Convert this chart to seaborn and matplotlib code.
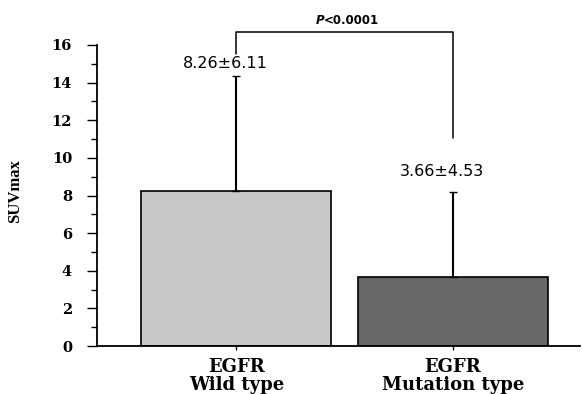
import matplotlib
matplotlib.use("Agg")
import matplotlib.pyplot as plt
import seaborn as sns
import pandas as pd
from matplotlib.ticker import MultipleLocator

# SUVmax by EGFR status (mean ± SD)
groups = ["EGFR\nWild type", "EGFR\nMutation type"]
suv_mean = [8.26, 3.66]
suv_sd = [6.11, 4.53]
value_labels = ["8.26±6.11", "3.66±4.53"]
p_symbol = "P"
p_value_text = "<0.0001"
y_ticks = [0, 2, 4, 6, 8, 10, 12, 14, 16]
bar_colors = ["#c8c8c8", "#686868"]

sns.set_style("white")
plt.rcParams["font.family"] = ["DejaVu Sans"]
plt.rcParams.update({
    "text.color": "black",
    "axes.labelcolor": "black",
    "xtick.color": "black",
    "ytick.color": "black",
})

fig = plt.figure(figsize=(5.82, 3.94), dpi=100)
ax = fig.add_axes([97 / 582, 1 - 346 / 394, (580 - 97) / 582, (346 - 45) / 394])

df = pd.DataFrame({"group": groups, "suv": suv_mean})
sns.barplot(data=df, x="group", y="suv", hue="group", palette=bar_colors,
            edgecolor="black", linewidth=1.2, width=0.877, legend=False,
            errorbar=None, ax=ax)

# upper-only SD whiskers
ax.errorbar(range(len(groups)), suv_mean, yerr=[[0] * len(groups), suv_sd],
            fmt="none", ecolor="black", elinewidth=1.5, capsize=3, capthick=1)

ax.set_xlim(-0.644, 1.587)
ax.set_ylim(0, 16)
ax.set_yticks(y_ticks)
ax.yaxis.set_minor_locator(MultipleLocator(1))

for side in ("top", "right"):
    ax.spines[side].set_visible(False)
for side in ("left", "bottom"):
    ax.spines[side].set_color("black")
    ax.spines[side].set_linewidth(1.3)

ax.tick_params(axis="y", which="major", length=7, width=1, colors="black",
               direction="out", pad=11, left=True)
ax.tick_params(axis="y", which="minor", length=4, width=1, colors="black",
               direction="out", left=True)
ax.tick_params(axis="x", which="major", length=3, width=1, colors="black",
               direction="out", pad=6, bottom=True)

for lab in ax.get_yticklabels():
    lab.set_fontfamily("DejaVu Serif")
    lab.set_fontweight("bold")
    lab.set_fontsize(10.5)
for lab in ax.get_xticklabels():
    lab.set_fontfamily("DejaVu Serif")
    lab.set_fontweight("bold")
    lab.set_fontsize(13)
    lab.set_linespacing(0.98)

ax.set_xlabel("")
ax.set_ylabel("SUVmax", fontfamily="Liberation Serif", fontweight="bold",
              fontsize=12)
ax.yaxis.set_label_coords(-0.153, 0.515)

# value annotations
label_pos = [(-0.05, 15.0), (0.95, 9.26)]
for (lx, ly), txt in zip(label_pos, value_labels):
    ax.text(lx, ly, txt, ha="center", va="center", fontsize=11.5, color="black")

# significance bracket
ax.plot([0, 0, 1, 1], [15.5, 16.7, 16.7, 11.06], color="black", lw=1.1,
        clip_on=False)
ax.text(0.404, 17.3, p_symbol, ha="right", va="center", fontsize=8.5,
        fontweight="bold", fontstyle="italic", clip_on=False)
ax.text(0.404, 17.3, p_value_text, ha="left", va="center", fontsize=8.5,
        fontweight="bold", clip_on=False)

fig.savefig("out.png", dpi=100)
